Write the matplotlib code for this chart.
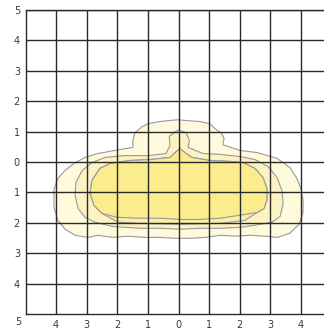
import numpy as np
import matplotlib
matplotlib.use("Agg")
import matplotlib.pyplot as plt

# contour outlines (data units)
outer_x = [-0.02, 0.31, 0.70, 1.03, 1.19, 1.42, 1.49, 1.45, 2.01, 2.57, 3.22, 3.64, 3.87, 4.00, 4.07, 4.07,
           3.94, 3.64, 3.25, 2.83, 2.34, 1.85, 1.36, 0.87, 0.38, -0.11, -0.61, -1.10, -1.65, -2.17, -2.63,
           -2.96, -3.38, -3.71, -3.94, -4.07, -4.07, -3.94, -3.71, -3.42, -3.06, -2.63, -2.08, -1.49, -1.49,
           -1.42, -1.19, -1.00, -0.61, -0.34]
outer_y = [1.39, 1.36, 1.33, 1.26, 1.10, 0.93, 0.77, 0.57, 0.38, 0.31, 0.12, -0.18, -0.54, -0.87, -1.26, -1.66,
           -2.05, -2.34, -2.48, -2.44, -2.41, -2.44, -2.41, -2.48, -2.51, -2.51, -2.48, -2.48, -2.44, -2.48, -2.41,
           -2.48, -2.41, -2.21, -1.92, -1.49, -0.90, -0.54, -0.28, -0.05, 0.15, 0.28, 0.38, 0.48, 0.71,
           0.97, 1.16, 1.26, 1.33, 1.36]

second_x = [-0.02, 0.25, 0.36, 0.31, 0.80, 1.36, 2.01, 2.50, 2.93, 3.22, 3.38, 3.42, 3.32, 3.06, 2.50, 2.01,
            1.36, 0.70, 0.05, -0.61, -1.26, -2.17, -2.73, -3.06, -3.28, -3.38, -3.35, -3.15, -2.83, -2.40,
            -1.75, -1.00, -0.41, -0.28, -0.30]
second_y = [1.05, 0.97, 0.71, 0.48, 0.28, 0.25, 0.18, 0.08, -0.15, -0.51, -0.93, -1.36, -1.79, -1.98, -2.08, -2.15,
            -2.18, -2.18, -2.21, -2.18, -2.18, -2.12, -1.98, -1.82, -1.53, -1.10, -0.67, -0.28, -0.02, 0.15,
            0.21, 0.21, 0.28, 0.54, 0.85]

third_x = [0.05, 0.25, 0.44, 1.03, 1.68, 2.11, 2.50, 2.76, 2.89, 2.89, 2.79, 2.57, 2.17, 1.36, 0.05, -1.26,
           -1.98, -2.50, -2.76, -2.89, -2.83, -2.57, -2.24, -1.59, -0.93, -0.28, -0.11]
third_y = [0.44, 0.28, 0.15, 0.05, 0.02, -0.02, -0.21, -0.51, -0.87, -1.26, -1.53, -1.66, -1.92, -2.02, -2.05, -2.02,
           -1.98, -1.69, -1.43, -1.03, -0.61, -0.21, -0.05, 0.05, 0.08, 0.15, 0.31]

inner_x = [0.05, 0.25, 0.44, 1.03, 1.68, 2.11, 2.50, 2.76, 2.89, 2.89, 2.79, 2.57, 2.01, 1.36, 0.70, 0.05,
           -0.61, -1.26, -2.01, -2.50, -2.76, -2.89, -2.83, -2.57, -2.24, -1.59, -0.93, -0.28, -0.11]
inner_y = [0.44, 0.28, 0.15, 0.05, 0.02, -0.02, -0.21, -0.51, -0.87, -1.26, -1.53, -1.66, -1.75, -1.85, -1.89, -1.89,
           -1.85, -1.85, -1.82, -1.69, -1.43, -1.03, -0.61, -0.21, -0.05, 0.05, 0.08, 0.15, 0.31]

ticks = list(range(-5, 6))
ylabels = [str(abs(t)) for t in ticks]
xticks = list(range(-4, 5))
xlabels = [str(abs(t)) for t in xticks]

fig = plt.figure(figsize=(3.24, 3.31), dpi=100)
ax = fig.add_axes([25.5 / 324, 17 / 331, 1 - 25.5 / 324, 304 / 331])

shapes = [(outer_x, outer_y, "#fffadc"), (second_x, second_y, "#fdf3c2"),
          (third_x, third_y, "#fbefab"), (inner_x, inner_y, "#fbec8e")]
for xs, ys, c in shapes:
    ax.fill(xs, ys, facecolor=c, edgecolor="#999999", linewidth=0.8, zorder=1)

ax.set_xlim(-5, (324 - 178.5) / 30.6)
ax.set_ylim(-5, 5)
ax.set_xticks(xticks)
ax.set_xticklabels(xlabels)
ax.set_yticks(ticks[1:])
ax.set_yticklabels(ylabels[1:])
ax.tick_params(length=0, labelsize=7, labelcolor="#3a3a3a", pad=4)
ax.grid(True, color="#2a2a2a", linewidth=1.0)
ax.set_axisbelow(False)
for s in ["left", "top", "bottom"]:
    ax.spines[s].set_color("#2a2a2a")
    ax.spines[s].set_linewidth(1.0)
ax.spines["right"].set_visible(False)
ax.annotate("5", xy=(0, 0), xycoords="axes fraction", xytext=(-5.4, -5.8),
            textcoords="offset points", ha="center", va="center", fontsize=7, color="#3a3a3a")

fig.savefig("out.png", dpi=100)
